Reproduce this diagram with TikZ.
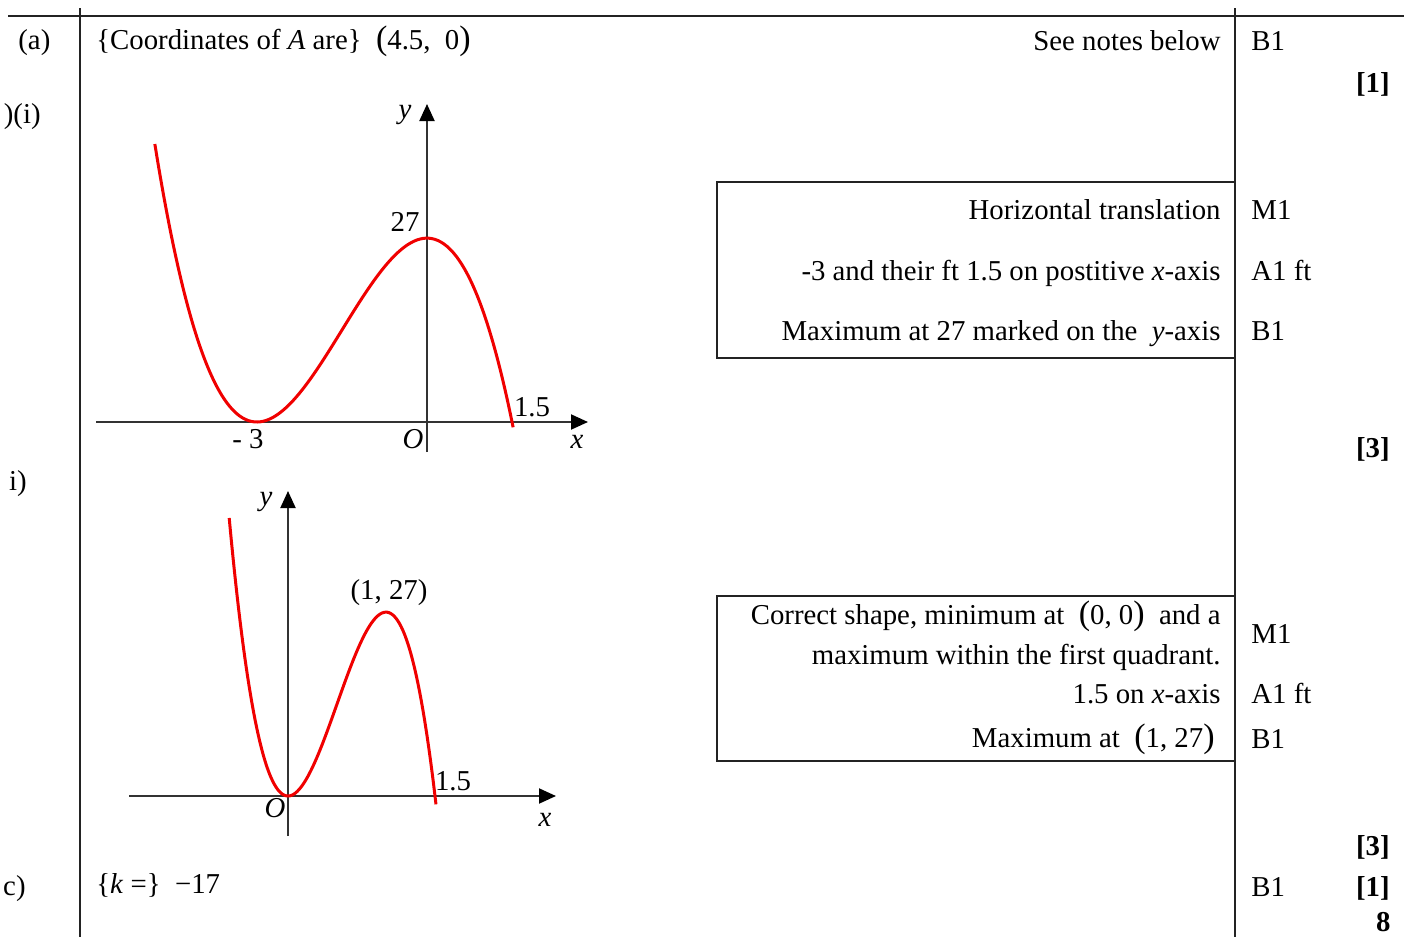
\documentclass[tikz,border=0pt]{standalone}
\usepackage{fontspec}
\setmainfont{Liberation Serif}
\usetikzlibrary{arrows.meta, positioning}
\definecolor{colCurve}{RGB}{240,0,0}
\definecolor{colRule}{RGB}{35,35,35}
\definecolor{colAxis}{RGB}{50,50,50}
\newcommand{\tallpar}[1]{{\fontsize{17}{17}\selectfont(}#1{\fontsize{17}{17}\selectfont)}}

\begin{document}
\begin{tikzpicture}[
  x=0.5pt, y=-0.5pt,
  every node/.style={inner sep=0pt, font=\fontsize{14.4}{17}\selectfont},
  rule/.style={colRule, line width=1pt},
  axis/.style={colAxis, line width=1pt, -{Triangle[length=8.5pt, width=7.5pt, black]}},
  curve/.style={colCurve, line width=1.5pt},
  txt/.style={anchor=base west},
  rtxt/.style={anchor=base east},
  score/.style={anchor=base west},
  tot/.style={anchor=base east, font=\fontsize{14.4}{17}\selectfont\bfseries},
  lab/.style={anchor=center},
]
\useasboundingbox (0,0) rectangle (1410,937);
\clip (0,0) rectangle (1410,937);

\draw[rule] (8,16) -- (1404,16);
\draw[rule] (80,8) -- (80,937);
\draw[rule] (1235,8) -- (1235,937);
\draw[rule] (717,182) rectangle (1235,358);
\draw[rule] (717,596) rectangle (1235,761);

\node[txt] (lblA) at (18,49) {(a)};
\node[rtxt] (lblBi) at (41,123) {)(i)};
\node[rtxt] (lblBii) at (27,490) {i)};
\node[rtxt] (lblC) at (26,895) {c)};

\node[txt] (coordA) at (96,49) {\{Coordinates of \textit{A} are\} \ \tallpar{4.5, \ 0}};
\node[rtxt] (notes) at (1221,50) {See notes below};
\node[score] (b1a) at (1251,50) {B1};
\node[tot] (totA) at (1390,92) {[1]};

% graph (b)(i)
\draw[axis] (96,422) -- (588,422);
\draw[axis] (427,452) -- (427,104);
\begin{scope}[shift={(427,422)}, x=28.35pt, y=3.405pt]
  \draw[curve] plot[domain=-4.8:1.52, samples=120, smooth] (\x, {(\x+3)^2*(3-2*\x)});
\end{scope}
\node[lab] (yA) at (405,115) {\textit{y}};
\node[lab] (maxA) at (405,222) {27};
\node[lab] (minA) at (248,439) {- 3};
\node[lab] (oA) at (413,439) {\textit{O}};
\node[lab] (rootA) at (532,407) {1.5};
\node[lab] (xA) at (577,442) {\textit{x}};

% graph (b)(ii)
\draw[axis] (129,796) -- (556,796);
\draw[axis] (288,836) -- (288,491);
\begin{scope}[shift={(288,796)}, x=49pt, y=3.405pt]
  \draw[curve] plot[domain=-0.6:1.51, samples=120, smooth] (\x, {27*(\x)*(\x)*(3-2*\x)});
\end{scope}
\node[lab] (yB) at (266,502) {\textit{y}};
\node[lab] (maxB) at (389,593) {(1, 27)};
\node[lab] (rootB) at (453,781) {1.5};
\node[lab] (oB) at (275,808) {\textit{O}};
\node[lab] (xB) at (545,820) {\textit{x}};

\node[rtxt] (horiz) at (1221,219) {Horizontal translation};
\node[rtxt] (roots) at (1221,280) {-3 and their ft 1.5 on postitive \textit{x}-axis};
\node[rtxt] (maxy) at (1221,340) {Maximum at 27 marked on the \ \textit{y}-axis};
\node[score] (m1a) at (1251,219) {M1};
\node[score] (a1a) at (1251,280) {A1 ft};
\node[score] (b1b) at (1251,340) {B1};
\node[tot] (totBi) at (1390,457) {[3]};

\node[rtxt] (shape) at (1221,624) {Correct shape, minimum at \ \tallpar{0, 0} \ and a};
\node[rtxt] (quad) at (1221,664) {maximum within the first quadrant.};
\node[rtxt] (rootx) at (1221,703) {1.5 on \textit{x}-axis};
\node[rtxt] (maxpt) at (1215,747) {Maximum at \ \tallpar{1, 27}};
\node[score] (m1b) at (1251,643) {M1};
\node[score] (a1b) at (1251,703) {A1 ft};
\node[score] (b1c) at (1251,748) {B1};
\node[tot] (totBii) at (1390,855) {[3]};

\node[txt] (kval) at (96,893) {\{\textit{k} =\} \ −17};
\node[score] (b1d) at (1251,896) {B1};
\node[tot] (totC) at (1390,896) {[1]};
\node[tot] (total) at (1391,931) {8};
\end{tikzpicture}
\end{document}
